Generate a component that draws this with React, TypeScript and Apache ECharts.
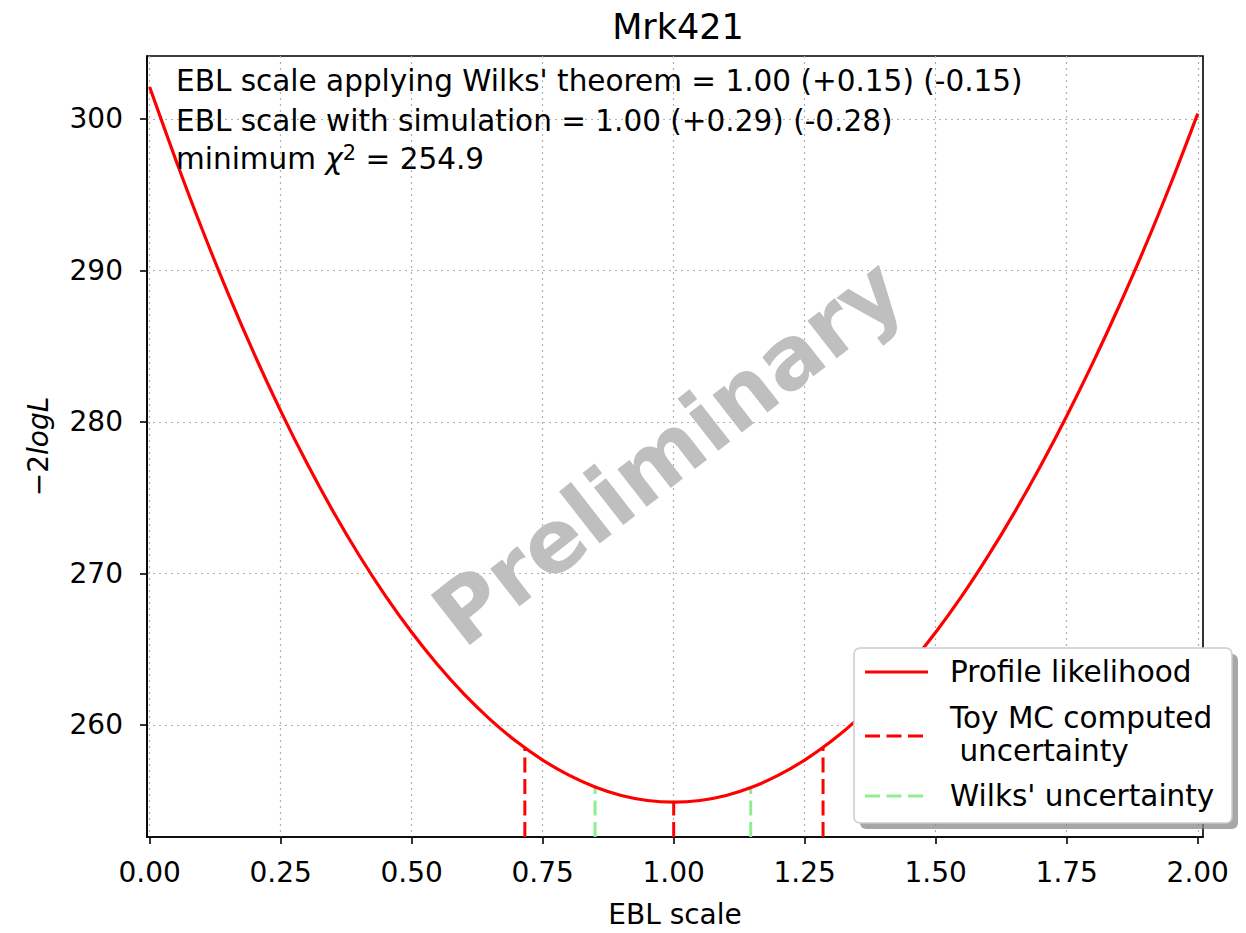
import React, { useEffect, useRef } from "react";
import * as echarts from "echarts";

// EBL scale sample points and the profile likelihood (-2logL)
const ebl = [0.0, 0.05, 0.1, 0.15, 0.2, 0.25, 0.3, 0.35, 0.4, 0.45, 0.5, 0.55, 0.6, 0.65, 0.7, 0.75, 0.8, 0.85, 0.9, 0.95, 1.0, 1.05, 1.1, 1.15, 1.2, 1.25, 1.3, 1.35, 1.4, 1.45, 1.5, 1.55, 1.6, 1.65, 1.7, 1.75, 1.8, 1.85, 1.9, 1.95, 2.0];
const likelihood = [
  302.1, 297.29, 292.73, 288.45, 284.45, 280.73, 277.28, 274.1, 271.18, 268.52, 266.11, 263.95, 262.03, 260.35, 258.9, 257.68, 256.68, 255.9, 255.34, 255.01,
  254.9,
  255.01, 255.34, 255.9, 256.68, 257.68, 258.9, 260.35, 262.03, 263.95, 266.11, 268.51, 271.15, 274.01, 277.09, 280.39, 283.91, 287.65, 291.61, 295.85, 300.35,
];

// Toy MC uncertainty markers (x position, top of the vertical line)
const toyX = [0.716, 1.0, 1.285];
const toyTop = [258.45, 254.9, 258.5];
// Wilks' uncertainty markers
const wilksX = [0.85, 1.147];
const wilksTop = [255.95, 255.95];

const xTicks = [0, 0.25, 0.5, 0.75, 1.0, 1.25, 1.5, 1.75, 2.0];
const yTicks = [260, 270, 280, 290, 300];
const xMin = -0.005;
const xMax = 2.01;
const yMin = 252.6;
const yMax = 304.15;

const legendNames = ["Profile likelihood", "Toy MC computed\n uncertainty", "Wilks' uncertainty"];
const infoLines = [
  "EBL scale applying Wilks' theorem = 1.00 (+0.15) (-0.15)",
  "EBL scale with simulation = 1.00 (+0.29) (-0.28)",
];
const chi2Min = "254.9";

const FONT = "DejaVu Sans";
const RED = "#ff0000";
const GREEN = "#90ee90";

export default function App() {
  const ref = useRef<HTMLDivElement>(null);

  useEffect(() => {
    document.body.style.margin = "0";
    const chart = echarts.init(ref.current!, undefined, { renderer: "svg" });

    const vline = (x: number, top: number, color: string) => ({
      type: "line",
      data: [
        [x, yMin],
        [x, top],
      ],
      symbol: "none",
      lineStyle: { color, width: 3, type: [15, 6.5] },
      z: 3,
      silent: true,
    });

    const series: any[] = [
      {
        name: legendNames[0],
        type: "line",
        data: ebl.map((x, i) => [x, likelihood[i]]),
        smooth: 0.3,
        symbol: "none",
        lineStyle: { color: RED, width: 3.2 },
        z: 4,
      },
      ...toyX.map((x, i) => vline(x, toyTop[i], RED)),
      ...wilksX.map((x, i) => vline(x, wilksTop[i], GREEN)),
    ];

    const lx = 854;
    const ly = 648;
    const lw = 378;
    const lh = 175;
    const TXT = 29.5;

    chart.setOption({
      animation: false,
      backgroundColor: "#ffffff",
      title: {
        text: "Mrk421",
        left: 673,
        top: 4,
        textAlign: "center",
        textStyle: { fontFamily: FONT, fontSize: 35, fontWeight: "normal", color: "#000" },
      },
      grid: {
        left: 147,
        right: 43,
        top: 56,
        bottom: 88,
        show: true,
        borderColor: "#000",
        borderWidth: 1.6,
        containLabel: false,
      },
      xAxis: {
        type: "value",
        min: xMin,
        max: xMax,
        name: "EBL scale",
        nameLocation: "middle",
        nameGap: 63,
        nameTextStyle: { fontFamily: FONT, fontSize: 28, color: "#000" },
        axisLine: { show: true, onZero: false, lineStyle: { color: "#000", width: 1.6 } },
        axisTick: { show: true, length: 7, lineStyle: { color: "#000", width: 1.6 }, customValues: xTicks },
        axisLabel: {
          customValues: xTicks,
          formatter: (v: number) => v.toFixed(2),
          fontFamily: FONT,
          fontSize: 28,
          color: "#000",
          margin: 21,
        },
        splitLine: { show: true, lineStyle: { color: "#b0b0b0", type: [2, 4], width: 1.2 } },
      },
      yAxis: {
        type: "value",
        min: yMin,
        max: yMax,
        name: "{a|−2}{b|logL}",
        nameLocation: "middle",
        nameGap: 95,
        nameRotate: 90,
        nameTextStyle: {
          rich: {
            a: { fontFamily: FONT, fontSize: 28, color: "#000" },
            b: { fontFamily: FONT, fontSize: 28, fontStyle: "italic", color: "#000" },
          },
        },
        axisLine: { show: true, onZero: false, lineStyle: { color: "#000", width: 1.6 } },
        axisTick: { show: true, length: 7, lineStyle: { color: "#000", width: 1.6 }, customValues: yTicks },
        axisLabel: {
          customValues: yTicks,
          formatter: (v: number) => String(Math.round(v)),
          fontFamily: FONT,
          fontSize: 28,
          color: "#000",
          margin: 24,
        },
        splitLine: { show: true, lineStyle: { color: "#b0b0b0", type: [2, 4], width: 1.2 } },
      },
      series,
      graphic: [
        {
          type: "text",
          x: 668,
          y: 452,
          rotation: (38 * Math.PI) / 180,
          z: 50,
          style: {
            text: "Preliminary",
            fontFamily: FONT,
            fontSize: 87,
            fontWeight: "bold",
            fill: "#bfbfbf",
            align: "center",
            verticalAlign: "middle",
          },
        },
        {
          type: "text",
          x: 176,
          y: 81,
          z: 60,
          style: { text: infoLines[0], fontFamily: FONT, fontSize: TXT, fill: "#000", verticalAlign: "middle" },
        },
        {
          type: "text",
          x: 176,
          y: 121,
          z: 60,
          style: { text: infoLines[1], fontFamily: FONT, fontSize: TXT, fill: "#000", verticalAlign: "middle" },
        },
        {
          type: "text",
          x: 176,
          y: 159,
          z: 60,
          style: {
            text: "minimum {i|χ}{s|2} = " + chi2Min,
            fontFamily: FONT,
            fontSize: TXT,
            fill: "#000",
            verticalAlign: "middle",
            rich: {
              i: { fontFamily: FONT, fontSize: TXT, fontStyle: "italic", fill: "#000" },
              s: { fontFamily: FONT, fontSize: 21, fill: "#000", verticalAlign: "top", padding: [0, 0, 12, 0] },
            },
          },
        },
        // legend
        {
          type: "rect",
          z: 70,
          shape: { x: lx + 6, y: ly + 6, width: lw, height: lh, r: 6 },
          style: { fill: "#8a8a8a", opacity: 0.75 },
        },
        {
          type: "rect",
          z: 71,
          shape: { x: lx, y: ly, width: lw, height: lh, r: 6 },
          style: { fill: "#ffffff", stroke: "#cccccc", lineWidth: 1.5 },
        },
        {
          type: "line",
          z: 72,
          shape: { x1: 865, y1: 672, x2: 928, y2: 672 },
          style: { stroke: RED, lineWidth: 3 },
        },
        {
          type: "text",
          z: 72,
          x: 950,
          y: 672,
          style: { text: legendNames[0], fontFamily: FONT, fontSize: TXT, fill: "#000", verticalAlign: "middle" },
        },
        {
          type: "line",
          z: 72,
          shape: { x1: 865, y1: 736, x2: 928, y2: 736 },
          style: { stroke: RED, lineWidth: 3, lineDash: [15, 6.5] },
        },
        {
          type: "text",
          z: 72,
          x: 950,
          y: 734,
          style: {
            text: legendNames[1],
            fontFamily: FONT,
            fontSize: TXT,
            lineHeight: 33,
            fill: "#000",
            verticalAlign: "middle",
          },
        },
        {
          type: "line",
          z: 72,
          shape: { x1: 865, y1: 796, x2: 928, y2: 796 },
          style: { stroke: GREEN, lineWidth: 3, lineDash: [15, 6.5] },
        },
        {
          type: "text",
          z: 72,
          x: 950,
          y: 796,
          style: { text: legendNames[2], fontFamily: FONT, fontSize: TXT, fill: "#000", verticalAlign: "middle" },
        },
      ],
    });

    return () => chart.dispose();
  }, []);

  return (
    <div
      ref={ref}
      style={{ position: "fixed", left: 0, top: 0, width: 1246, height: 933, background: "#fff" }}
    />
  );
}
